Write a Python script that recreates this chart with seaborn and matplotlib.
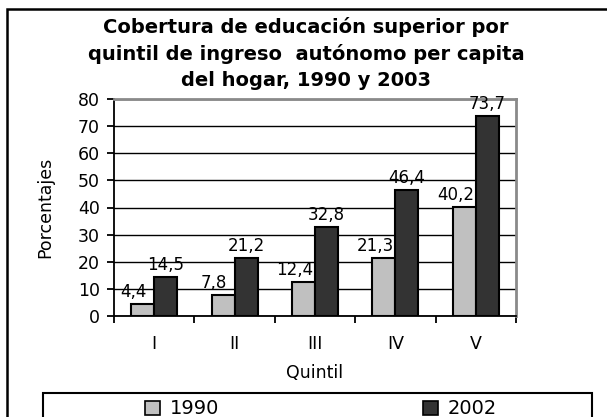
import matplotlib
matplotlib.use('Agg')
import matplotlib.pyplot as plt
import seaborn as sns
import pandas as pd
import numpy as np
from matplotlib.patches import Rectangle, Patch

# ---- data ----
quintiles = ['I', 'II', 'III', 'IV', 'V']
v1990 = [4.4, 7.8, 12.4, 21.3, 40.2]
v2002 = [14.5, 21.2, 32.8, 46.4, 73.7]
series = ['1990', '2002']
title_lines = ['Cobertura de educación superior por',
               'quintil de ingreso  autónomo per capita',
               'del hogar, 1990 y 2003']
yticks = [0, 10, 20, 30, 40, 50, 60, 70, 80]
colors = ['#c0c0c0', '#333333']

df = pd.DataFrame({
    'Quintil': quintiles * 2,
    'Porcentajes': v1990 + v2002,
    'Serie': [series[0]] * len(v1990) + [series[1]] * len(v2002),
})

sns.set_theme(style='white')
plt.rcParams['font.family'] = ['DejaVu Sans']
plt.rcParams['text.color'] = 'black'
plt.rcParams['axes.labelcolor'] = 'black'
plt.rcParams['xtick.color'] = 'black'
plt.rcParams['ytick.color'] = 'black'

W, H = 607, 417
fig = plt.figure(figsize=(W / 100, H / 100), dpi=100)
fig.patch.set_facecolor('white')

L, R, T, B = 114, 516, 99, 316
ax = fig.add_axes([L / W, 1 - B / H, (R - L) / W, (B - T) / H])

sns.barplot(data=df, x='Quintil', y='Porcentajes', hue='Serie',
            palette=colors, saturation=1, edgecolor='black', linewidth=1.5,
            width=0.57, errorbar=None, legend=False, ax=ax)

ax.set_ylim(0, 80)
ax.set_xlim(-0.5, len(quintiles) - 0.5)
ax.set_yticks(yticks)
ax.yaxis.grid(True, color='black', linewidth=1.0)
ax.xaxis.grid(False)
ax.set_axisbelow(True)

for s in ['left', 'bottom']:
    ax.spines[s].set_color('black')
    ax.spines[s].set_linewidth(1.3)
for s in ['top', 'right']:
    ax.spines[s].set_color('#8a8a8a')
    ax.spines[s].set_linewidth(2)
    ax.spines[s].set_visible(True)

ax.tick_params(axis='y', which='major', direction='out', length=5, width=1.3,
               color='black', labelcolor='black', pad=5, labelsize=12.5, left=True)
ax.set_xticks(np.arange(-0.5, len(quintiles), 1.0), minor=True)
ax.tick_params(axis='x', which='major', length=0, pad=14, labelsize=12.5,
               labelcolor='black')
ax.tick_params(axis='x', which='minor', direction='out', length=5, width=1.3,
               color='black', bottom=True)

ax.set_ylabel('Porcentajes', fontsize=12.5, color='black')
ax.yaxis.set_label_coords((54 - L) / (R - L), 0.5)
ax.set_xlabel('Quintil', fontsize=12.5, color='black')
ax.xaxis.set_label_coords(0.5, (B - 364) / (B - T))

# data labels
for ci, cont in enumerate(ax.containers):
    dx = -9 if ci == 0 else 0
    for rect in cont:
        h = rect.get_height()
        ax.annotate(f'{h:.1f}'.replace('.', ','),
                    (rect.get_x() + rect.get_width() / 2, h),
                    xytext=(dx, 3), textcoords='offset pixels',
                    ha='center', va='bottom', fontsize=12, color='black')

# title
baselines = [33, 60, 86]
for line, yb in zip(title_lines, baselines):
    fig.text(306 / W, 1 - yb / H, line, ha='center', va='baseline',
             fontsize=14, fontweight='bold', color='black')

# outer border (extends past the right and bottom edges)
fig.patches.append(Rectangle((7 / W, -0.1), 1.2, 1 - 9 / H + 0.1,
                             transform=fig.transFigure, fill=False,
                             edgecolor='black', linewidth=1.8))

# legend frame
fig.patches.append(Rectangle((43 / W, -0.1), (592 - 43) / W, 1 - 393 / H + 0.1,
                             transform=fig.transFigure, fill=False,
                             edgecolor='black', linewidth=1.5))
handles = [Patch(facecolor=c, edgecolor='black', linewidth=1.2) for c in colors]
fig.legend(handles, series, loc='center', bbox_to_anchor=(321 / W, 1 - 409 / H),
           ncol=2, frameon=False, fontsize=14, handlelength=0.75,
           handleheight=0.75, handletextpad=0.5, columnspacing=10.5,
           borderpad=0, borderaxespad=0, labelcolor='black')

fig.savefig('out.png', dpi=100)
